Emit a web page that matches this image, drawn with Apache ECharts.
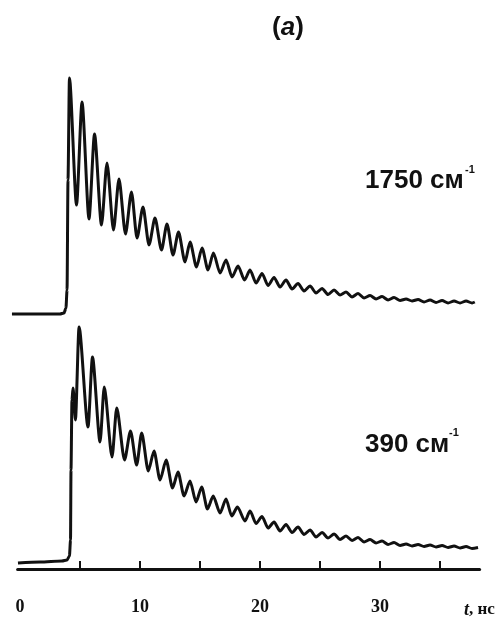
<!DOCTYPE html>
<html>
<head>
<meta charset="utf-8">
<script src="https://cdn.jsdelivr.net/npm/echarts@6/dist/echarts.min.js"></script>
<style>
html,body{margin:0;padding:0;background:#fff;}
#chart{width:498px;height:620px;}
</style>
</head>
<body>
<div id="chart"></div>
<script>
// ---- data (time in ns, intensity in arbitrary units, baseline = 0) ----
const timeTop = [-0.67,1.67,3.33,3.67,3.83,3.92,4.0,4.12,
  4.71,5.17,5.75,6.21,6.79,7.25,7.79,8.25,8.79,9.29,9.75,10.25,10.75,11.25,11.79,12.25,12.75,13.21,13.75,14.17,14.71,15.17,15.67,16.12,16.67,17.17,17.67,18.17,18.71,
  19.17,19.67,20.17,20.67,21.17,21.67,22.17,22.67,23.17,23.67,24.17,24.67,25.17,25.67,26.17,26.67,27.17,27.67,28.17,28.67,29.17,29.67,30.17,30.67,31.17,31.67,32.17,32.67,33.17,33.67,34.17,34.67,35.17,35.67,36.17,36.67,37.17,37.67,37.9];
const valTop = [0,0,0,1,6,24,134,236,
  109,212,95,180,89,151,84,135,80,122,76,107,69,96,64,90,59,82,52,72,47,66,44,61,41,54,37,48,34,
  44,31,40.5,28.5,36.5,27,34,25,30.5,23,28,21,25.5,19.5,24,19,22,17,20.5,16,18.5,15,17.5,14,16.5,13.5,15,13,14.5,12,14,11.5,13.5,11,13,11,13,11,12];

const timeBottom = [-0.17,1.67,3.5,3.92,4.12,4.21,4.25,4.33,4.42,4.62,
  4.92,5.67,6.04,6.67,7.02,7.67,8.06,8.71,9.21,9.72,10.14,10.69,11.17,11.67,12.18,12.71,13.17,13.67,14.17,14.67,15.14,15.62,16.1,16.67,17.17,17.64,18.12,18.75,
  19.17,19.67,20.17,20.67,21.17,21.67,22.17,22.67,23.17,23.67,24.17,24.67,25.17,25.67,26.17,26.67,27.17,27.67,28.17,28.67,29.17,29.67,30.17,30.67,31.17,31.67,32.17,32.67,33.17,33.67,34.17,34.67,35.17,35.67,36.17,36.67,37.17,37.67,38.17];
const valBottom = [0,1,2,3,7,23,93,163,175,143,
  236,136,206,121,176,106,155,103,132,98,130,92,112,83,103,75,91,67,82,61,76,54,67,50,64,47,56,42,
  52,39.5,46.5,35,41,32,38.5,30.5,36,28.5,33,26,30.5,25,29,23.5,27,22.5,25.5,21,23.5,20,22,18.5,20.5,17.5,19,17,18.5,16.5,18,16,17.5,15.5,17,15,16.5,14.5,15.5];

const tickValues = [5,10,15,20,25,30,35];
const tickLabels = [0,10,20,30];
const traceNames = ['1750 см', '390 см'];
const superscript = '-1';
const panelTitle = 'a';
const axisTitle = ['t', ', нс'];

const zip = (a, b) => a.map((t, i) => [t, b[i]]);

const chart = echarts.init(document.getElementById('chart'), null, {renderer: 'canvas'});
const lineStyle = {color: '#111', width: 3};
const sans = '"Liberation Sans", Arial, sans-serif';
const serif = '"Liberation Serif", "Times New Roman", serif';

chart.setOption({
  animation: false,
  backgroundColor: '#ffffff',
  grid: [
    {left: 11.6, width: 468, top: 74, height: 250},
    {left: 17.6, width: 462, top: 319, height: 250}
  ],
  xAxis: [
    {gridIndex: 0, type: 'value', min: -0.7, max: 38.3, show: false},
    {gridIndex: 1, type: 'value', min: -0.2, max: 38.3,
      axisLine: {show: true, onZero: false, lineStyle: {color: '#111', width: 3}},
      axisTick: {show: true, inside: true, length: 8, lineStyle: {color: '#111', width: 2}, customValues: tickValues},
      axisLabel: {show: true, customValues: tickLabels, margin: 29, color: '#111',
        fontFamily: serif, fontWeight: 'bold', fontSize: 18},
      splitLine: {show: false}
    }
  ],
  yAxis: [
    {gridIndex: 0, type: 'value', min: -10, max: 240, show: false},
    {gridIndex: 1, type: 'value', min: -6, max: 244, show: false}
  ],
  series: [
    {type: 'line', xAxisIndex: 0, yAxisIndex: 0, data: zip(timeTop, valTop),
      showSymbol: false, smooth: 0.25, smoothMonotone: 'x', clip: false, lineStyle: lineStyle, silent: true},
    {type: 'line', xAxisIndex: 1, yAxisIndex: 1, data: zip(timeBottom, valBottom),
      showSymbol: false, smooth: 0.25, smoothMonotone: 'x', clip: false, lineStyle: lineStyle, silent: true}
  ],
  graphic: [
    {type: 'text', x: 288, y: 28, style: {text: '({i|' + panelTitle + '})', fill: '#111',
      font: 'bold 26px ' + sans, align: 'center', verticalAlign: 'middle',
      rich: {i: {fontStyle: 'italic', fontWeight: 'bold', fontSize: 26, fontFamily: sans}}}},
    {type: 'text', x: 365, y: 181, style: {text: traceNames[0], fill: '#111', font: 'bold 26px ' + sans, align: 'left', verticalAlign: 'middle'}},
    {type: 'text', x: 465, y: 170, style: {text: superscript, fill: '#111', font: 'bold 11px ' + sans, align: 'left', verticalAlign: 'middle'}},
    {type: 'text', x: 365, y: 445, style: {text: traceNames[1], fill: '#111', font: 'bold 26px ' + sans, align: 'left', verticalAlign: 'middle'}},
    {type: 'text', x: 449, y: 433, style: {text: superscript, fill: '#111', font: 'bold 11px ' + sans, align: 'left', verticalAlign: 'middle'}},
    {type: 'text', x: 464, y: 610, style: {text: '{i|' + axisTitle[0] + '}' + axisTitle[1], fill: '#111',
      font: 'bold 17px ' + serif, align: 'left', verticalAlign: 'middle',
      rich: {i: {fontStyle: 'italic', fontWeight: 'bold', fontSize: 18, fontFamily: serif}}}}
  ]
});
</script>
</body>
</html>
